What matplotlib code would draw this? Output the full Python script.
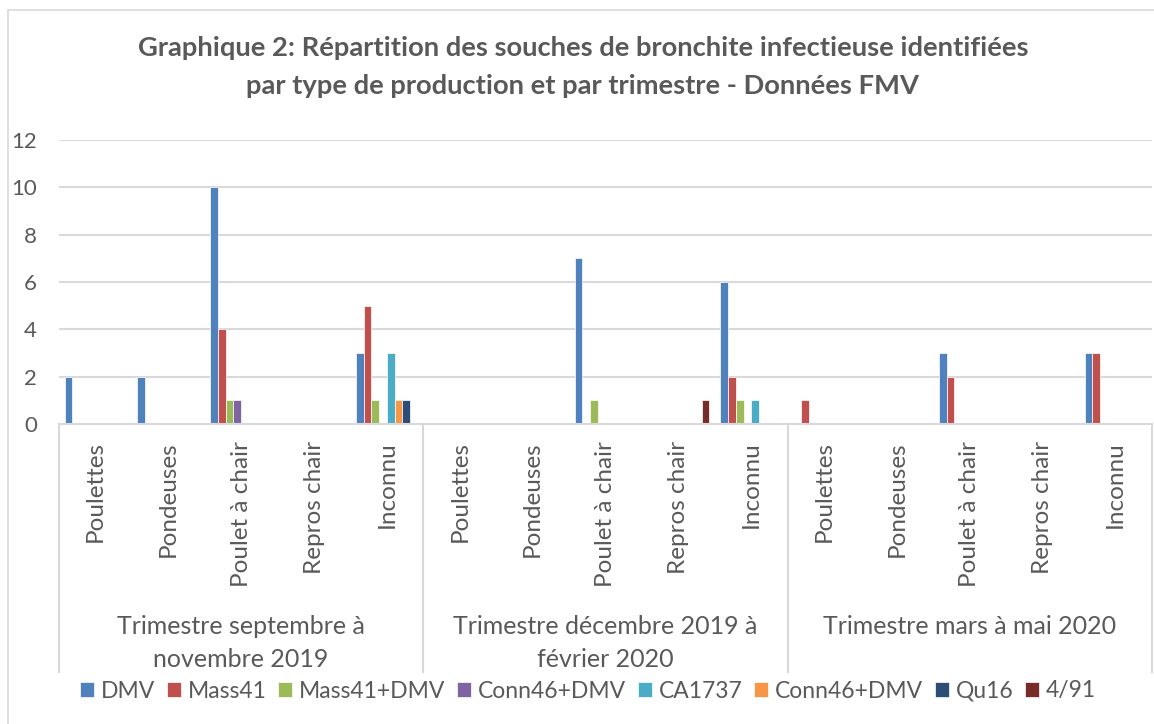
import numpy as np
import matplotlib.pyplot as plt
from matplotlib.patches import Rectangle
from matplotlib.transforms import blended_transform_factory

# ========== DATA ==========
TITLE = ("Graphique 2: Répartition des souches de bronchite infectieuse identifiées\n"
         "par type de production et par trimestre - Données FMV")
types = ["Poulettes", "Pondeuses", "Poulet à chair", "Repros chair", "Inconnu"]
trimestres = ["Trimestre septembre à\nnovembre 2019",
              "Trimestre décembre 2019 à\nfévrier 2020",
              "Trimestre mars à mai 2020"]
series_names = ["DMV", "Mass41", "Mass41+DMV", "Conn46+DMV", "CA1737",
                "Conn46+DMV", "Qu16", "4/91"]

# 15 values per series: 3 trimesters x 5 production types
dmv        = [2, 2, 10, 0, 3,   0, 0, 7, 0, 6,   0, 0, 3, 0, 3]
mass41     = [0, 0, 4, 0, 5,    0, 0, 0, 0, 2,   1, 0, 2, 0, 3]
mass41_dmv = [0, 0, 1, 0, 1,    0, 0, 1, 0, 1,   0, 0, 0, 0, 0]
conn46_dmv = [0, 0, 1, 0, 0,    0, 0, 0, 0, 0,   0, 0, 0, 0, 0]
ca1737     = [0, 0, 0, 0, 3,    0, 0, 0, 0, 1,   0, 0, 0, 0, 0]
conn46_b   = [0, 0, 0, 0, 1,    0, 0, 0, 0, 0,   0, 0, 0, 0, 0]
qu16       = [0, 0, 0, 0, 1,    0, 0, 0, 0, 0,   0, 0, 0, 0, 0]
v491       = [0, 0, 0, 0, 0,    0, 0, 0, 1, 0,   0, 0, 0, 0, 0]
all_series = [dmv, mass41, mass41_dmv, conn46_dmv, ca1737, conn46_b, qu16, v491]

# ========== STYLE ==========
W, H = 1154, 724
TEXT = '#595959'
GRID = '#D9D9D9'
COLORS = ['#4F81BD', '#C0504D', '#9BBB59', '#8064A2', '#4BACC6',
          '#F79646', '#2C4D75', '#772C2A']
plt.rcParams['font.family'] = ['Lato', 'DejaVu Sans']

fig = plt.figure(figsize=(W / 100, H / 100), dpi=100)
fig.patches.append(Rectangle((8 / W, -0.1), 1.2, 1 - 10 / H + 0.1, transform=fig.transFigure,
                             fill=False, edgecolor=GRID, linewidth=1.2))

# plot area in pixels
x0, x1, y0, y1 = 59, 1152, 424, 140
ax = fig.add_axes([x0 / W, 1 - y0 / H, (x1 - x0) / W, (y0 - y1) / H])

n_cat = len(types) * len(trimestres)
n_ser = len(all_series)
bw = 0.106
x = np.arange(n_cat)
for s, vals in enumerate(all_series):
    ax.bar(x + (s - (n_ser - 1) / 2) * bw, vals, width=bw, color=COLORS[s],
           edgecolor='white', linewidth=0.5, label=series_names[s], zorder=3)

ax.set_xlim(-0.5, n_cat - 0.5)
ax.set_ylim(0, 12)
ax.set_yticks(range(0, 13, 2))
ax.yaxis.grid(True, color=GRID, linewidth=1.5, zorder=0)
for sp in ax.spines.values():
    sp.set_visible(False)
ax.tick_params(axis='y', length=0, pad=16, labelsize=16, labelcolor=TEXT)
ax.set_xticks([])

# category axis: box lines and two-level labels
tr = blended_transform_factory(ax.transData, ax.transAxes)
yb = (y0 - 672) / (y0 - y1)
ax.plot([-0.5, n_cat - 0.5], [0, 0], color=GRID, linewidth=1.5, transform=tr, clip_on=False, zorder=4)
for k in range(len(trimestres) + 1):
    xs = k * len(types) - 0.5
    ax.plot([xs, xs], [0, yb], color=GRID, linewidth=1.5, transform=tr, clip_on=False)

for i in range(n_cat):
    ax.text(i, (y0 - 441) / (y0 - y1), types[i % len(types)], rotation=90, ha='center', va='top',
            fontsize=17.5, color=TEXT, transform=tr)
for k, t in enumerate(trimestres):
    ax.text(k * len(types) + (len(types) - 1) / 2, (y0 - 615) / (y0 - y1), t, ha='center', va='top',
            fontsize=18, color=TEXT, transform=tr, linespacing=1.55)

fig.text(583 / W, 1 - 67 / H, TITLE, ha='center', va='center', fontsize=19.7, fontweight='bold',
         color=TEXT, linespacing=1.65)

leg = fig.legend(loc='center', bbox_to_anchor=(588 / W, 1 - 691 / H), ncol=8, frameon=False,
                 fontsize=16.5, handlelength=0.62, handleheight=0.62, handletextpad=0.3,
                 columnspacing=0.5, labelcolor=TEXT)

fig.savefig('out.png', dpi=100)
